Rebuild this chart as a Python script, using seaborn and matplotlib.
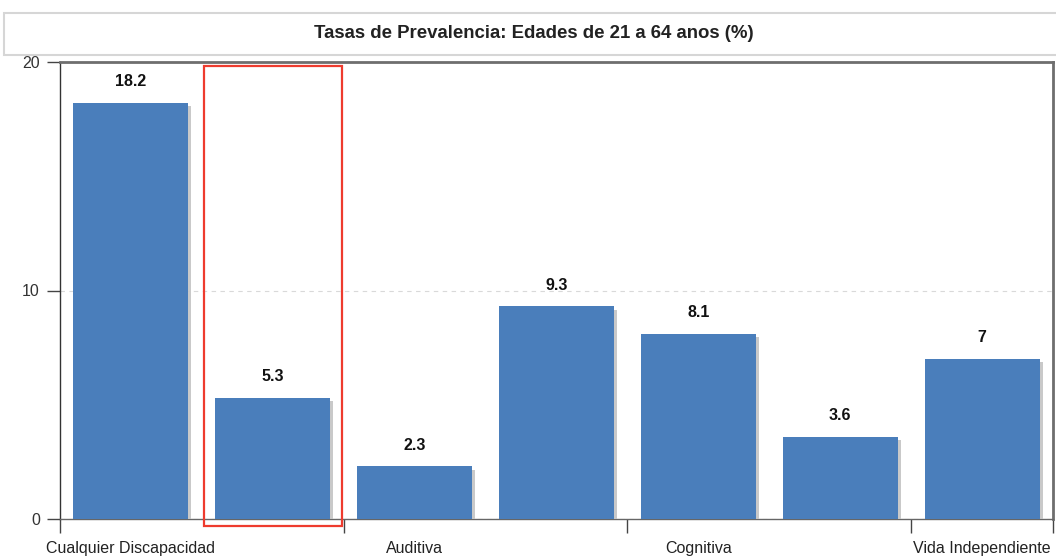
import matplotlib
matplotlib.use("Agg")
import matplotlib.pyplot as plt
import matplotlib.patheffects as pe
from matplotlib.patches import Rectangle
import seaborn as sns
import pandas as pd

# Prevalence rates by disability type, ages 21-64 (%)
categories = ["Cualquier Discapacidad", "Visual", "Auditiva", "Ambulatoria",
              "Cognitiva", "Cuidado Personal", "Vida Independiente"]
values = [18.2, 5.3, 2.3, 9.3, 8.1, 3.6, 7]
shown_labels = ["Cualquier Discapacidad", "", "Auditiva", "", "Cognitiva", "", "Vida Independiente"]
highlight_index = 1
title = "Tasas de Prevalencia: Edades de 21 a 64 anos (%)"

sns.set_style("white")
plt.rcParams["font.family"] = ["Liberation Sans", "DejaVu Sans"]

df = pd.DataFrame({"tipo": categories, "tasa": values})

W, H = 1056, 557
fig = plt.figure(figsize=(W / 100, H / 100), dpi=100)
ax = fig.add_axes([60 / W, 1 - 519 / H, (1053 - 60) / W, (519 - 62) / H])

sns.barplot(data=df, x="tipo", y="tasa", order=categories, color="#4a7ebb",
            saturation=1, width=0.81, ax=ax, zorder=3)

shadow = [pe.SimplePatchShadow(offset=(2.2, -2.2), shadow_rgbFace="#c4c4c4", alpha=0.9),
          pe.Normal()]
for bar in ax.patches:
    bar.set_path_effects(shadow)
    bar.set_edgecolor("none")

ax.bar_label(ax.containers[0], labels=[f"{v:g}" for v in values], padding=10,
             fontsize=11.5, fontweight="bold", color="#111111")

ax.set_xlim(-0.5, len(categories) - 0.5)
ax.set_ylim(0, 20)
ax.set_yticks([0, 10, 20])
ax.set_xlabel("")
ax.set_ylabel("")

# group separators on the category axis, labels centred under every other bar
ax.set_xticks([-0.5, 1.5, 3.5, 5.5, 6.5])
ax.set_xticklabels([])
ax.set_xticks(range(len(categories)), minor=True)
ax.set_xticklabels(shown_labels, minor=True)
ax.tick_params(axis="x", which="major", bottom=True, length=10, width=1,
               color="#444444", direction="out")
ax.tick_params(axis="x", which="minor", bottom=True, length=0, pad=16,
               labelsize=11.5, labelcolor="#222222")
ax.tick_params(axis="y", length=9.5, width=1, color="#444444", pad=5,
               labelsize=11.5, labelcolor="#333333", left=True)

ax.yaxis.grid(True, ls=(0, (4, 4)), color="#d9d9d9", lw=0.8, zorder=0)
ax.set_axisbelow(True)

for side in ["top", "right"]:
    ax.spines[side].set_visible(True)
    ax.spines[side].set_color("#6e6e6e")
    ax.spines[side].set_linewidth(2)
ax.spines["left"].set_color("#333333")
ax.spines["left"].set_linewidth(1)
ax.spines["bottom"].set_color("#666666")
ax.spines["bottom"].set_linewidth(1)

# highlight frame around the second category
ax.add_patch(Rectangle((highlight_index - 0.485, -0.31), 0.973, 20.14, fill=False,
                       edgecolor="#ee3b2e", lw=1.6, clip_on=False, zorder=5))

# title panel
fig.patches.append(Rectangle((4 / W, 1 - 55 / H), 1.0, 42 / H, transform=fig.transFigure,
                             facecolor="white", edgecolor="#d6d6d6", lw=1.5, zorder=0))
fig.text(534 / W, 1 - 34 / H, title, ha="center", va="center", fontsize=13.4,
         fontweight="bold", color="#222222")

fig.savefig("out.png", dpi=100)
